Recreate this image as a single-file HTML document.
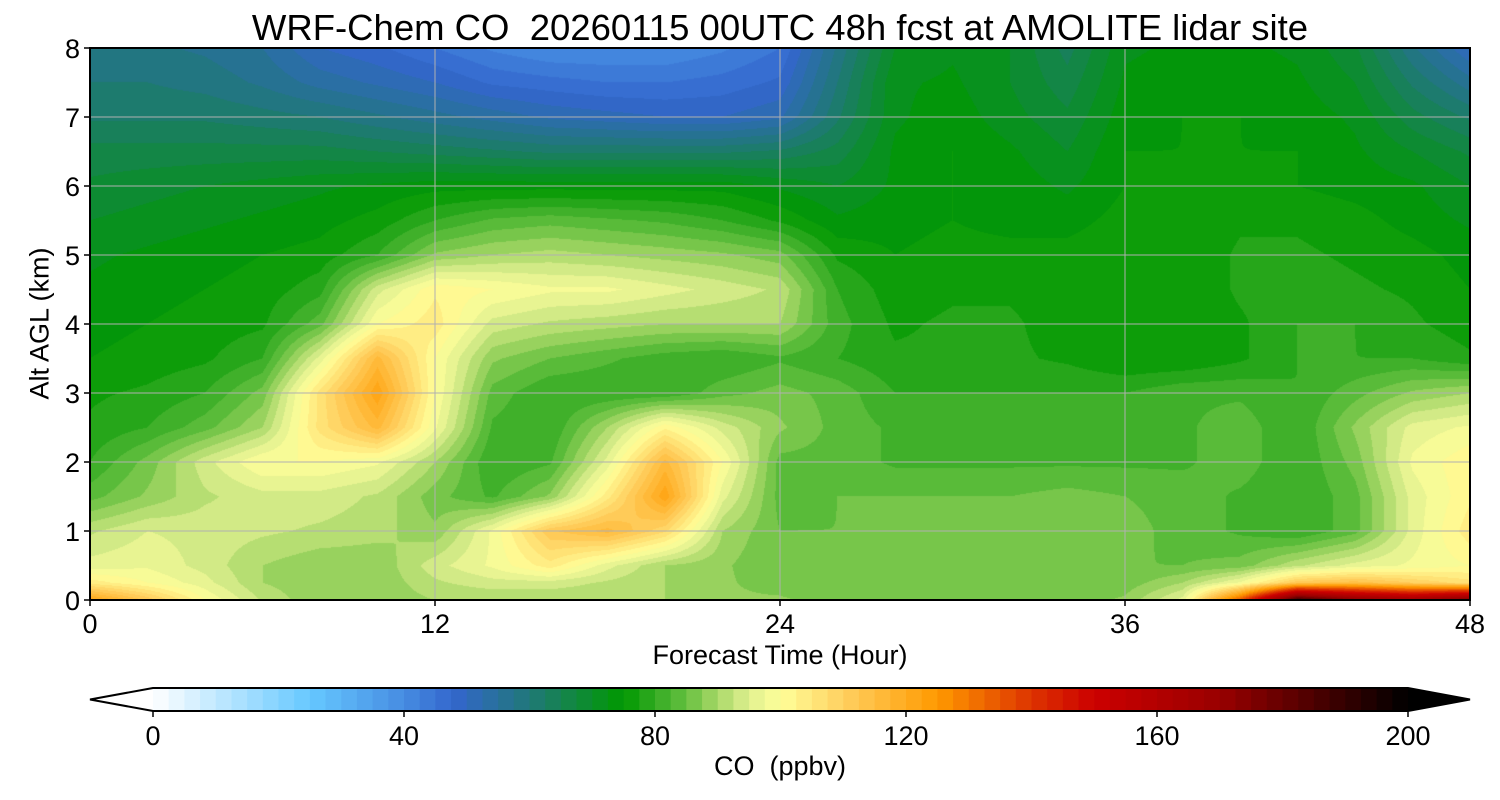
<!DOCTYPE html>
<html><head><meta charset="utf-8">
<style>
html,body{margin:0;padding:0;background:#fff;}
body{width:1500px;height:800px;position:relative;overflow:hidden;font-family:"Liberation Sans",sans-serif;}
.t{position:absolute;color:#000;white-space:nowrap;}
canvas{position:absolute;left:90px;top:48px;}
svg{position:absolute;left:0;top:0;}
</style></head>
<body>
<div class="t" style="left:0;width:1560px;text-align:center;top:7px;font-size:36.5px;">WRF-Chem CO&nbsp; 20260115 00UTC 48h fcst at AMOLITE lidar site</div>
<canvas id="cv" width="1380" height="552"></canvas>
<svg id="sv" width="1500" height="800"></svg>
<div class="t" style="left:-50px;top:308px;width:180px;text-align:center;font-size:27px;transform:rotate(-90deg);">Alt AGL (km)</div>
<div class="t" style="left:580px;width:400px;text-align:center;top:640px;font-size:27px;">Forecast Time (Hour)</div>
<div class="t" style="left:580px;width:400px;text-align:center;top:751px;font-size:27px;">CO&nbsp; (ppbv)</div>
<script>
const times=[0,2,4,6,8,10,12,14,16,18,20,22,24,26,28,30,32,34,36,38,40,42,44,46,48];
const alts=[8,7.5,7,6.5,6,5.5,5,4.5,4,3.5,3,2.5,2,1.5,1,0.5,0.25,0];
const co=[
[58,58,57,55,50,48,45,42,40,40,40,42,45,58,70,72,70,64,72,73,73,72,68,58,50],
[60,60,59,57,54,52,50,47,46,45,45,46,48,60,72,73,70,66,73,74,74,73,70,62,56],
[62,62,62,61,60,58,56,54,52,51,50,50,52,62,72,74,71,68,74,75,75,74,72,66,62],
[66,66,66,66,66,65,64,63,62,62,62,62,63,66,73,75,73,70,75,75,75,75,73,70,67],
[68,69,70,71,72,73,74,74,74,74,74,74,72,70,73,75,74,72,75,75,75,75,74,73,70],
[70,71,72,73,74,76,80,83,84,83,82,80,77,73,74,75,74,74,76,75,77,77,76,74,72],
[72,73,74,75,76,80,88,90,91,90,89,88,86,77,75,76,76,76,77,75,78,78,77,76,74],
[73,74,75,76,79,94,102,100,98,98,96,94,92,80,76,77,77,76,75,75,78,79,78,77,75],
[74,75,76,77,84,100,104,94,92,91,90,90,90,81,77,78,78,76,75,75,77,80,80,78,76],
[75,76,77,80,96,116,100,88,85,83,81,80,82,80,78,78,78,77,75,75,77,80,80,80,78],
[77,78,80,86,106,122,100,84,80,80,80,84,86,84,80,80,80,80,80,82,82,80,84,88,90],
[78,80,84,90,106,116,98,82,80,90,102,94,88,84,82,82,82,82,80,82,84,80,88,96,98],
[80,86,94,100,100,98,90,80,82,96,116,100,84,84,82,82,82,82,82,82,84,80,86,98,102],
[84,88,92,94,94,92,86,82,88,104,122,96,84,85,85,85,85,86,85,84,82,80,84,96,102],
[92,95,94,93,92,91,88,98,112,116,108,90,85,85,85,85,85,86,86,84,82,80,84,96,104],
[96,97,94,90,88,88,94,98,104,96,90,88,85,85,85,85,85,85,85,85,86,92,96,98,100],
[104,100,96,90,88,88,92,94,94,92,90,88,86,85,85,85,85,85,86,90,98,112,114,110,106],
[122,112,100,92,88,88,90,90,90,90,90,88,88,86,86,86,86,86,88,96,135,190,175,168,178]
];
const cbTicks=[0,40,80,120,160,200];
const xTicks=[0,12,24,36,48];
const yTicks=[0,1,2,3,4,5,6,7,8];

const X0=90,X1=1470,Y0=600,Y1=48;
const xs=t=>X0+(t-0)/48*(X1-X0);
const ys=a=>Y0-(a/8)*(Y0-Y1);
const CB0=153,CB1=1408;
const cbx=v=>CB0+v/200*(CB1-CB0);

const stops=[[0,[255,255,255]],[25,[102,200,255]],[40,[70,140,225]],[48,[51,102,204]],[60,[32,120,120]],[75,[0,153,0]],[80,[51,170,34]],[85,[102,192,64]],[90,[168,216,104]],[95,[224,240,144]],[100,[255,255,153]],[110,[255,208,96]],[125,[255,153,0]],[140,[221,51,0]],[150,[204,0,0]],[170,[153,0,0]],[200,[0,0,0]]];
function col(v){
  v=Math.max(0,Math.min(200,Math.floor((v+0.01)/2.5)*2.5+1.25));
  for(let i=0;i<stops.length-1;i++){const a=stops[i],b=stops[i+1];
    if(v<=b[0]){const f=(v-a[0])/(b[0]-a[0]);return a[1].map((c,k)=>Math.round(c+(b[1][k]-c)*f));}}
  return [0,0,0];
}
const cv=document.getElementById('cv'),ctx=cv.getContext('2d');
const img=ctx.createImageData(1380,552);
function idx(arr,v,desc){
  for(let i=0;i<arr.length-1;i++){const a=arr[i],b=arr[i+1];
    if((desc? v<=a&&v>=b : v>=a&&v<=b)) return [i,(v-a)/(b-a)];}
  return [arr.length-2,1];
}
const colIdx=[];for(let px=0;px<1380;px++){colIdx.push(idx(times,(px+0.5)/1380*48,false));}
for(let py=0;py<552;py++){
  const a=8-(py+0.5)/552*8;const [ri,rf]=idx(alts,a,true);
  for(let px=0;px<1380;px++){
    const [ci,cf]=colIdx[px];
    const v=co[ri][ci]*(1-rf)*(1-cf)+co[ri][ci+1]*(1-rf)*cf+co[ri+1][ci]*rf*(1-cf)+co[ri+1][ci+1]*rf*cf;
    const c=col(v);const o=(py*1380+px)*4;
    img.data[o]=c[0];img.data[o+1]=c[1];img.data[o+2]=c[2];img.data[o+3]=255;
  }
}
ctx.putImageData(img,0,0);

const sv=document.getElementById('sv');const NS='http://www.w3.org/2000/svg';
function mk(tag,at,txt){const e=document.createElementNS(NS,tag);for(const k in at)e.setAttribute(k,at[k]);if(txt!==undefined)e.textContent=txt;sv.appendChild(e);return e;}
xTicks.forEach(t=>{
  const g=mk('line',{x1:xs(t),x2:xs(t),y1:Y1,y2:Y0,stroke:'#b0b0b0','stroke-width':1});
  
  
  const tk=mk('line',{x1:xs(t),x2:xs(t),y1:Y0,y2:Y0+6,stroke:'#000','stroke-width':1.5});
  
  
  const l=mk('text',{x:xs(t),y:Y0+33,'text-anchor':'middle','font-size':27,'font-family':'Liberation Sans, sans-serif'},t);
  
  
});
yTicks.forEach(v=>{
  const g=mk('line',{x1:X0,x2:X1,y1:ys(v),y2:ys(v),stroke:'#b0b0b0','stroke-width':1});
  
  
  const tk=mk('line',{x1:X0-6,x2:X0,y1:ys(v),y2:ys(v),stroke:'#000','stroke-width':1.5});
  
  
  const l=mk('text',{x:X0-10,y:ys(v)+10,'text-anchor':'end','font-size':27,'font-family':'Liberation Sans, sans-serif'},v);
  
  
});
const fr=mk('rect',{x:X0,y:Y1,width:X1-X0,height:Y0-Y1,fill:'none',stroke:'#000','stroke-width':2});


const CT=688,CBH=23;
const lt=mk('polygon',{points:`${CB0},${CT} 90,${CT+CBH/2} ${CB0},${CT+CBH}`,fill:'#fff'});


for(let v=0;v<200;v+=2.5){
  const c=col(v);
  const r=mk('rect',{x:cbx(v),y:CT,width:cbx(v+2.5)-cbx(v)+0.6,height:CBH,fill:`rgb(${c})`});
  
  
}
const rt=mk('polygon',{points:`${CB1},${CT} 1470,${CT+CBH/2} ${CB1},${CT+CBH}`,fill:'#000'});


const ol=mk('polygon',{points:`${CB0},${CT} 90,${CT+CBH/2} ${CB0},${CT+CBH} ${CB1},${CT+CBH} 1470,${CT+CBH/2} ${CB1},${CT}`,fill:'none',stroke:'#000','stroke-width':2});


cbTicks.forEach(v=>{
  const tk=mk('line',{x1:cbx(v),x2:cbx(v),y1:CT+CBH,y2:CT+CBH+6,stroke:'#000','stroke-width':1.5});
  
  
  const l=mk('text',{x:cbx(v),y:CT+CBH+34,'text-anchor':'middle','font-size':27,'font-family':'Liberation Sans, sans-serif'},v);
  
  
});
</script>
</body></html>
